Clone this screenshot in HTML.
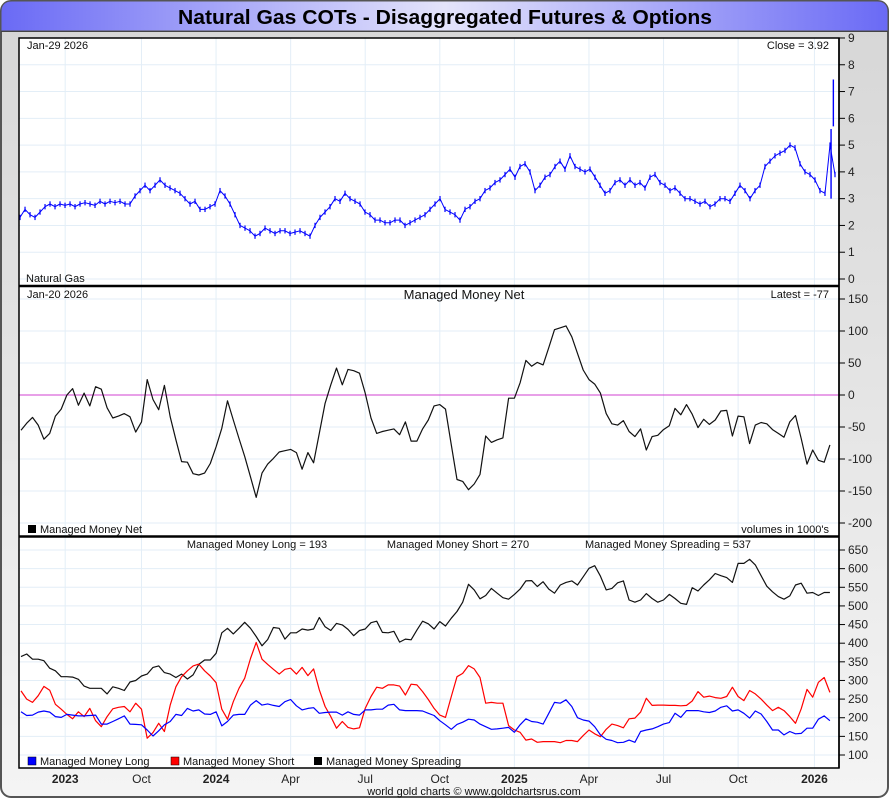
<!DOCTYPE html>
<html><head><meta charset="utf-8"><style>
html,body{margin:0;padding:0;background:#fff;}
svg{display:block;font-family:"Liberation Sans Narrow","Liberation Sans",sans-serif;}
</style></head><body>
<svg id="chart" width="890" height="800" viewBox="0 0 890 800" xmlns="http://www.w3.org/2000/svg">
<defs>
<linearGradient id="bg" x1="0" y1="0" x2="0" y2="1"><stop offset="0" stop-color="#d6d6d6"/><stop offset="1" stop-color="#f4f4f4"/></linearGradient>
<linearGradient id="tb" x1="0" y1="0" x2="1" y2="0"><stop offset="0" stop-color="#6a6af5"/><stop offset="0.5" stop-color="#e4e4fb"/><stop offset="1" stop-color="#6a6af5"/></linearGradient>
</defs>
<rect x="1" y="1" width="887" height="796" rx="10" fill="url(#bg)" stroke="#555" stroke-width="2"/>
<path d="M1,31 L1,12 Q1,1 12,1 L877,1 Q888,1 888,12 L888,31 Z" fill="url(#tb)" stroke="#555" stroke-width="1"/>
<line x1="1" y1="31.5" x2="888" y2="31.5" stroke="#444" stroke-width="1"/>
<text x="445" y="24" text-anchor="middle" font-family="Liberation Sans, sans-serif" font-weight="bold" font-size="20" textLength="534" lengthAdjust="spacingAndGlyphs">Natural Gas COTs - Disaggregated Futures &amp; Options</text>
<rect x="19" y="38" width="820" height="730" fill="#fff"/>
<g id="grid"></g>
<g id="marks"></g>
<rect x="19" y="38" width="820" height="730" fill="none" stroke="#000" stroke-width="1.5"/>
<line x1="19" y1="286" x2="839" y2="286" stroke="#000" stroke-width="2.5"/>
<line x1="19" y1="536.5" x2="839" y2="536.5" stroke="#000" stroke-width="2.5"/>
<g id="axes" font-size="12" fill="#222"></g>
<g font-size="11" fill="#111">
<text x="27" y="49">Jan-29  2026</text>
<text x="829" y="49" text-anchor="end">Close = 3.92</text>
<text x="26" y="282">Natural Gas</text>
<text x="27" y="298">Jan-20  2026</text>
<text x="464" y="299" text-anchor="middle" font-size="13">Managed Money Net</text>
<text x="829" y="298" text-anchor="end">Latest = -77</text>
<rect x="28" y="525" width="8" height="8" fill="#000"/>
<text x="40" y="533">Managed Money Net</text>
<text x="829" y="533" text-anchor="end">volumes in 1000's</text>
<text x="257" y="548" text-anchor="middle">Managed Money Long = 193</text>
<text x="458" y="548" text-anchor="middle">Managed Money Short = 270</text>
<text x="668" y="548" text-anchor="middle">Managed Money Spreading = 537</text>
<rect x="28" y="757" width="8" height="8" fill="#00f" stroke="#000" stroke-width="0.5"/>
<text x="40" y="765">Managed Money Long</text>
<rect x="171" y="757" width="8" height="8" fill="#f00" stroke="#000" stroke-width="0.5"/>
<text x="183" y="765">Managed Money Short</text>
<rect x="314" y="757" width="8" height="8" fill="#000"/>
<text x="326" y="765">Managed Money Spreading</text>
<text x="474" y="795" text-anchor="middle">world gold charts © www.goldchartsrus.com</text>
</g>
</svg>
<script>
// ---- data ----
const xTickLabels = ["2023","Oct","2024","Apr","Jul","Oct","2025","Apr","Jul","Oct","2026"];
const xTickWeeks = [7.7,21,34,47,60,73,86,99,112,125,138.3];
const priceTicks = [0,1,2,3,4,5,6,7,8,9];
const netTicks = [150,100,50,0,-50,-100,-150,-200];
const posTicks = [650,600,550,500,450,400,350,300,250,200,150,100];
const priceVals = [2.3,2.6,2.4,2.3,2.5,2.7,2.8,2.7,2.8,2.75,2.8,2.7,2.8,2.85,2.8,2.75,2.9,2.8,2.9,2.85,2.9,2.8,2.8,3.1,3.3,3.5,3.3,3.5,3.7,3.5,3.4,3.3,3.2,3.0,2.8,2.9,2.6,2.6,2.7,2.8,3.3,3.1,2.8,2.4,2.0,1.9,1.8,1.6,1.7,1.9,1.8,1.7,1.8,1.8,1.7,1.75,1.8,1.7,1.6,2.0,2.3,2.5,2.7,3.0,2.9,3.2,3.0,2.9,2.8,2.5,2.4,2.2,2.2,2.1,2.1,2.2,2.2,2.0,2.1,2.2,2.3,2.4,2.6,2.8,3.0,2.6,2.5,2.4,2.2,2.6,2.7,2.9,3.0,3.3,3.4,3.6,3.7,3.9,4.1,3.8,4.2,4.3,4.0,3.3,3.5,3.8,3.9,4.2,4.4,4.1,4.6,4.2,4.1,4.0,4.1,3.8,3.5,3.2,3.3,3.6,3.7,3.5,3.7,3.5,3.6,3.4,3.8,3.9,3.6,3.5,3.3,3.4,3.2,3.0,3.0,2.9,2.8,2.9,2.7,2.8,3.0,3.0,2.9,3.2,3.5,3.3,3.0,3.3,3.5,4.2,4.4,4.6,4.7,4.8,5.0,4.9,4.3,4.0,3.9,3.7,3.3,3.2,5.0,3.9];
const spikeWeeks = [141.2,141.6];
const spikeHighs = [5.6,7.45];
const spikeLows = [3.0,5.7];
const netVals = [-55,-44,-35,-47,-69,-60,-33,-22,0,10,-16,3,-17,13,9,-20,-36,-33,-29,-34,-58,-42,24,-7,-23,15,-34,-70,-104,-105,-123,-125,-122,-107,-81,-52,-9,-39,-68,-96,-128,-160,-122,-108,-99,-89,-87,-85,-90,-116,-90,-106,-60,-13,16,42,16,40,38,34,3,-36,-60,-57,-55,-53,-62,-42,-72,-72,-53,-39,
-17,-15,-22,-78,-132,-135,-148,-139,-124,-64,-74,-70,-67,-5,-5,19,54,45,51,47,74,102,105,108,91,65,39,24,17,3,-29,-45,-47,-40,-57,-65,-53,-86,-65,-63,-54,-48,-21,-31,-15,-30,-51,-38,-46,-39,-25,-24,-64,-33,-34,-76,-47,-43,-45,-54,-60,-66,-42,-32,-68,-108,-86,-102,-105,-78];
const longVals = [216,206,207,215,218,215,203,201,209,207,205,205,206,207,183,183,190,197,205,183,182,181,167,151,165,181,190,209,206,225,218,221,210,209,216,178,190,207,209,209,234,246,234,237,233,230,243,249,232,221,225,227,212,214,215,215,207,216,209,207,221,221,223,223,234,236,221,219,219,219,218,212,
206,192,181,169,182,188,196,194,183,176,169,170,172,174,161,181,197,190,188,183,212,241,239,248,230,200,194,191,176,154,142,139,133,134,140,134,163,167,170,176,183,187,212,201,219,219,219,216,214,218,228,232,218,221,212,199,218,210,190,167,167,154,163,157,158,172,172,196,205,192];
const shortVals = [272,250,241,259,284,274,236,223,209,197,216,203,225,192,176,203,224,228,230,216,239,223,145,160,185,163,234,283,310,326,339,344,326,312,294,223,196,243,279,306,359,402,357,343,330,317,330,333,317,335,313,331,275,230,203,172,190,174,170,173,225,257,282,279,288,288,285,261,290,288,270,249,
225,207,201,257,310,319,340,331,308,239,241,239,239,179,167,161,140,143,134,136,136,136,133,139,139,136,152,167,157,149,169,183,179,173,197,199,215,252,233,234,234,233,233,232,233,245,270,255,258,254,252,257,282,257,246,273,264,250,234,219,228,219,203,185,224,276,255,295,308,268];
const spreadVals = [364,371,357,357,353,333,326,310,310,309,303,285,279,279,279,264,283,279,273,296,300,312,317,335,339,321,317,308,317,304,315,343,355,355,373,428,440,425,440,456,440,418,393,410,442,440,411,428,428,438,435,438,469,444,434,453,449,437,420,434,438,455,459,429,428,432,403,411,409,435,459,452,
438,458,446,467,485,510,558,543,519,528,547,534,522,518,531,545,567,568,552,565,545,534,556,563,567,556,578,601,608,580,543,547,562,567,516,510,516,533,520,510,516,531,520,507,504,549,540,556,570,587,581,576,563,614,614,625,610,581,553,538,525,518,527,556,561,534,536,528,536,536];

// ---- scales ----
const NS = "http://www.w3.org/2000/svg";
function xW(w){ return 21 + w*5.737; }
function priceX(i){ return xW(i*0.8715 - 0.17); }
function yPrice(v){ return 279 - v*26.78; }
function yNet(v){ return 395 - v*0.64; }
function yPos(v){ return 755 - (v-100)*0.3727; }
const grid = document.getElementById('grid');
const marks = document.getElementById('marks');
const axes = document.getElementById('axes');
function mk(tag, attrs, parent){ const e=document.createElementNS(NS,tag); for(const k in attrs) e.setAttribute(k,attrs[k]); parent.appendChild(e); return e; }

xTickWeeks.forEach((w,i)=>{
  const x = xW(w);
  const g = mk('line',{x1:x,y1:38,x2:x,y2:768,stroke:'#e3eef7','stroke-width':1},grid);
  
  
  const isYear = /^\d{4}$/.test(xTickLabels[i]);
  const t = mk('text',{x:x,y:783,'text-anchor':'middle','font-size':12,'font-weight':isYear?'bold':'normal'},axes);
  t.textContent = xTickLabels[i];
  
  
});
function hTicks(ticks, yf, name){
  ticks.forEach(v=>{
    const y = yf(v);
    const g = mk('line',{x1:19,y1:y,x2:839,y2:y,stroke:'#e3eef7','stroke-width':1},grid);
    
    
    mk('line',{x1:839,y1:y,x2:845,y2:y,stroke:'#000','stroke-width':1},axes);
    const t = mk('text',{x:848,y:y+4},axes);
    t.textContent = v;
    
    
  });
}
hTicks(priceTicks, yPrice, 'price');
hTicks(netTicks, yNet, 'net');
hTicks(posTicks, yPos, 'positions');
mk('line',{x1:839,y1:38,x2:839,y2:768,stroke:'#000','stroke-width':1.5},axes);
const zl = mk('line',{x1:19,y1:yNet(0),x2:839,y2:yNet(0),stroke:'#d040d0','stroke-width':1},grid);



function poly(vals, xf, yf, color, w, name){
  const pts = vals.map((v,i)=>xf(i).toFixed(1)+','+yf(v).toFixed(1)).join(' ');
  const p = mk('polyline',{points:pts,fill:'none',stroke:color,'stroke-width':w,'stroke-linejoin':'round'},marks);
  
  
}
poly(priceVals, priceX, yPrice, '#0000ff', 1, 'price-line');
priceVals.forEach((v,i)=>{
  const b = mk('line',{x1:priceX(i),y1:yPrice(v+0.1),x2:priceX(i),y2:yPrice(v-0.1),stroke:'#0000ff','stroke-width':1.2},marks);
  
  
});
spikeWeeks.forEach((w,i)=>{
  const b = mk('line',{x1:xW(w),y1:yPrice(spikeHighs[i]),x2:xW(w),y2:yPrice(spikeLows[i]),stroke:'#0000ff','stroke-width':1.4},marks);
  
  
});
poly(netVals, xW, yNet, '#111', 1.2, 'managed-money-net-line');
poly(spreadVals, xW, yPos, '#111', 1.2, 'managed-money-spreading-line');
poly(shortVals, xW, yPos, '#ff0000', 1.2, 'managed-money-short-line');
poly(longVals, xW, yPos, '#0000ff', 1.2, 'managed-money-long-line');
</script>
</body></html>
